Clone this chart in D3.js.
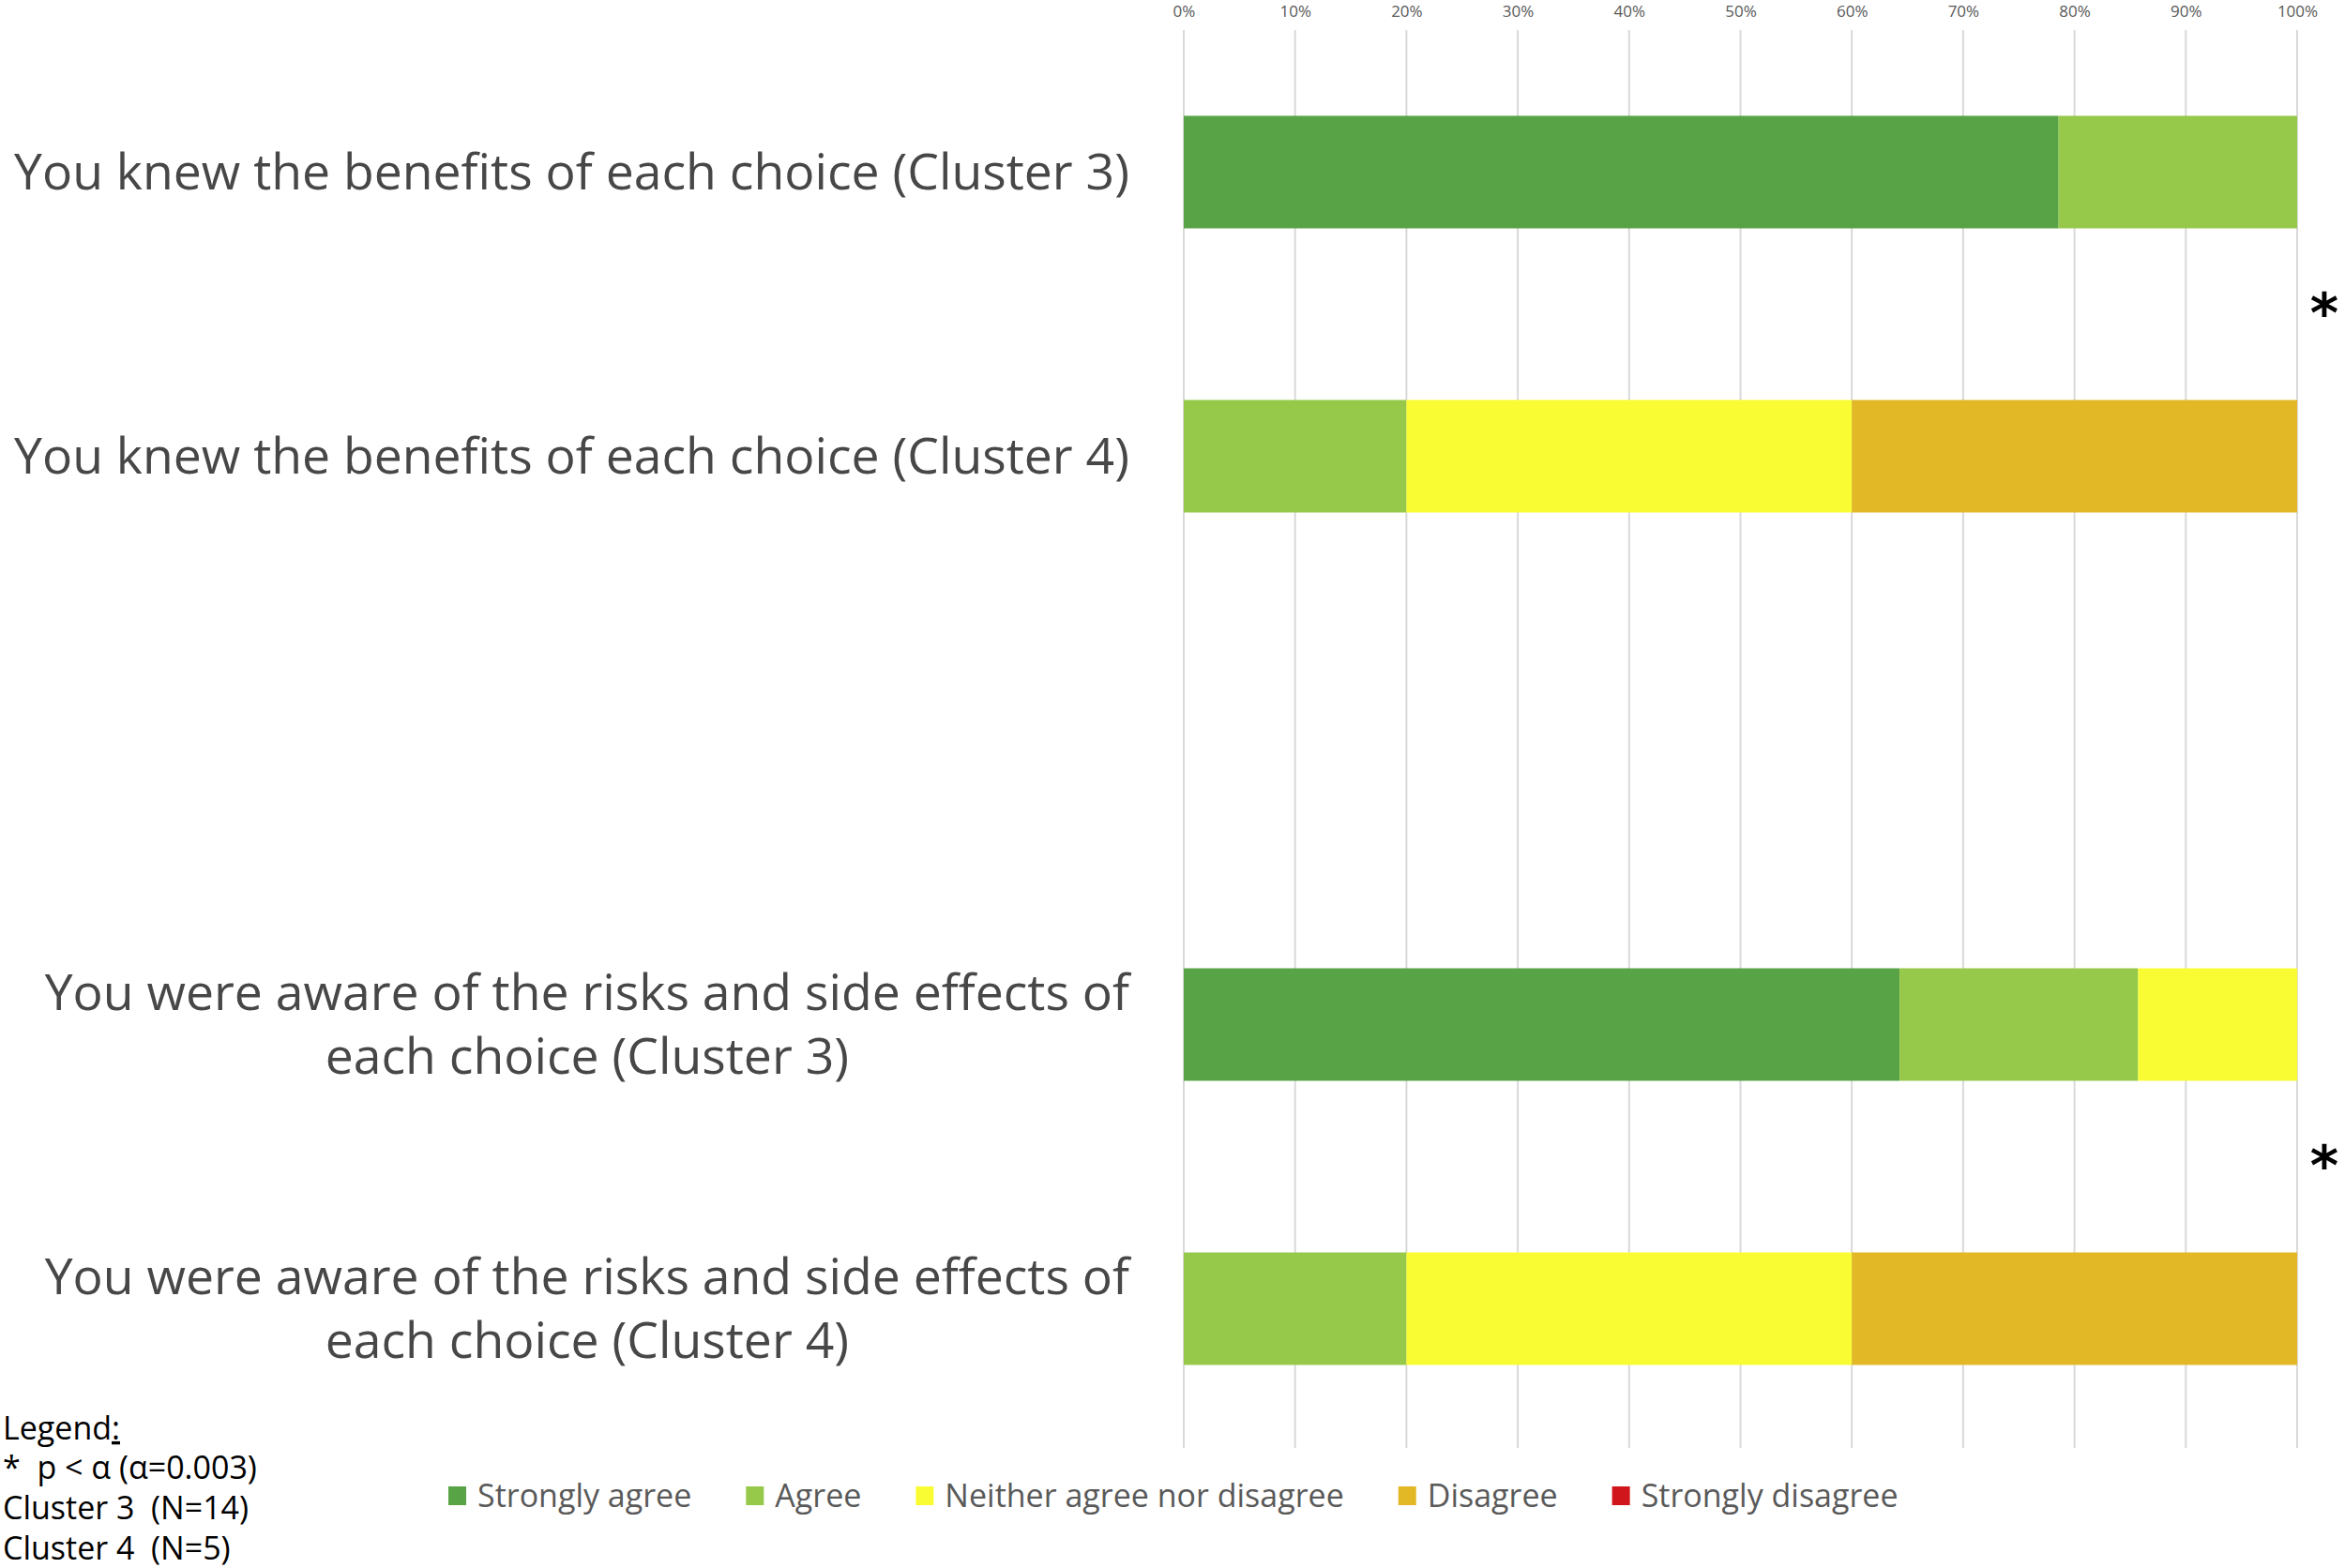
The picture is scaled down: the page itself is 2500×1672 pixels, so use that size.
<!DOCTYPE html>
<html>
<head>
<meta charset="utf-8">
<script src="https://cdn.jsdelivr.net/npm/d3@7"></script>
<style>
  html, body { margin: 0; padding: 0; background: #fff; }
  svg { display: block; }
</style>
</head>
<body>
<svg id="chart" width="2500" height="1672"></svg>
<script>
// ---- data ----
const categories = [
  "You knew the benefits of each choice (Cluster 3)",
  "You knew the benefits of each choice (Cluster 4)",
  "",
  "You were aware of the risks and side effects of each choice (Cluster 3)",
  "You were aware of the risks and side effects of each choice (Cluster 4)"
];
const labelLines = [
  ["You knew the benefits of each choice (Cluster 3)"],
  ["You knew the benefits of each choice (Cluster 4)"],
  [],
  ["You were aware of the risks and side effects of", "each choice (Cluster 3)"],
  ["You were aware of the risks and side effects of", "each choice (Cluster 4)"]
];
const seriesNames = ["Strongly agree", "Agree", "Neither agree nor disagree", "Disagree", "Strongly disagree"];
const stronglyAgree = [78.57, 0, 0, 64.29, 0];
const agree         = [21.43, 20, 0, 21.43, 20];
const neither       = [0, 40, 0, 14.29, 40];
const disagree      = [0, 40, 0, 0, 40];
const stronglyDis   = [0, 0, 0, 0, 0];
const seriesColors = ["#57a345", "#96c94a", "#f9fc33", "#e3b826", "#d0161b"];
const xTicks = [0, 10, 20, 30, 40, 50, 60, 70, 80, 90, 100];
const significantPairs = [[0, 1], [3, 4]];
const notes = ["Legend", "*  p < \u03b1 (\u03b1=0.003)", "Cluster 3  (N=14)", "Cluster 4  (N=5)"];

// ---- build table ----
const seriesValues = [stronglyAgree, agree, neither, disagree, stronglyDis];
const table = categories.map((c, i) => {
  const row = { key: "k" + i, label: c };
  seriesNames.forEach((s, j) => row[s] = seriesValues[j][i]);
  return row;
});
const stacked = d3.stack().keys(seriesNames)(table);

// ---- layout ----
const svg = d3.select("#chart");
const plotLeft = 1262, plotRight = 2449, plotTop = 32, plotBottom = 1547;

const x = d3.scaleLinear().domain([0, 100]).range([plotLeft, plotRight]);
const y = d3.scaleBand().domain(table.map(d => d.key))
  .range([plotTop, plotBottom]).paddingInner(0.604).paddingOuter(0.302);

// gridlines
svg.append("g").selectAll("line").data(xTicks).join("line")
  .attr("x1", d => x(d)).attr("x2", d => x(d))
  .attr("y1", plotTop).attr("y2", plotBottom - 3)
  .attr("stroke", "#d9d9d9").attr("stroke-width", 2);

// top axis labels
const xAxis = d3.axisTop(x).tickValues(xTicks).tickFormat(d => d + "%").tickSize(0).tickPadding(0);
const gx = svg.append("g").attr("transform", `translate(0, 13)`).call(xAxis);
gx.select(".domain").remove();
gx.selectAll("text").attr("font-family", "'Open Sans', sans-serif").attr("font-size", 17)
  .attr("fill", "#595959").attr("dy", "0.32em").attr("y", 0);

// bars
svg.append("g").selectAll("g").data(stacked).join("g")
  .attr("fill", (d, i) => seriesColors[i])
  .selectAll("rect").data(d => d).join("rect")
  .attr("x", d => x(d[0]))
  .attr("width", d => Math.max(0, x(d[1]) - x(d[0])))
  .attr("y", d => y(d.data.key))
  .attr("height", y.bandwidth());

// category labels: block right-aligned, lines centered within block
const labelRight = 1204;
const labelFont = 53.5;
const lineGap = 68;
const lg = svg.append("g");
table.forEach((row, i) => {
  const lines = labelLines[i];
  if (!lines.length) return;
  const cy = y(row.key) + y.bandwidth() / 2;
  const g = lg.append("g");
  const texts = lines.map((ln, k) => g.append("text")
    .attr("font-family", "'Open Sans', sans-serif")
    .attr("font-size", labelFont)
    .attr("fill", "#474747")
    .attr("dy", "0.35em")
    .attr("y", cy + (k - (lines.length - 1) / 2) * lineGap)
    .text(ln));
  const widths = texts.map(t => t.node().getComputedTextLength());
  const blockW = d3.max(widths);
  const blockCenter = labelRight - blockW / 2;
  texts.forEach(t => t.attr("x", blockCenter).attr("text-anchor", "middle"));
});

// significance asterisks
svg.append("g").selectAll("text").data(significantPairs).join("text")
  .attr("x", 2478)
  .attr("y", d => (y(table[d[0]].key) + y(table[d[1]].key)) / 2 + y.bandwidth() / 2)
  .attr("dy", "0.32em")
  .attr("text-anchor", "middle")
  .attr("font-family", "'DejaVu Sans', sans-serif")
  .attr("font-weight", "bold")
  .attr("font-size", 58)
  .attr("fill", "#000")
  .text("*");

// series legend
const legY = 1595;
const legG = svg.append("g");
let lx = 478;
seriesNames.forEach((s, i) => {
  legG.append("rect").attr("x", lx).attr("y", legY - 10).attr("width", 19).attr("height", 20)
    .attr("fill", seriesColors[i]);
  const t = legG.append("text").attr("x", lx + 31).attr("y", legY).attr("dy", "0.35em")
    .attr("font-family", "'Open Sans', sans-serif").attr("font-size", 34)
    .attr("fill", "#595959").text(s);
  lx += 31 + t.node().getComputedTextLength() + 58;
});

// notes legend (bottom-left)
const noteG = svg.append("g").attr("font-family", "'Open Sans', sans-serif")
  .attr("font-size", 34).attr("fill", "#000").style("white-space", "pre");
const noteYs = [1523, 1565, 1608, 1651];
notes.forEach((n, i) => {
  const t = noteG.append("text").attr("x", 3).attr("y", noteYs[i]).attr("dy", "0.35em")
    .attr("xml:space", "preserve");
  if (i === 0) {
    t.append("tspan").text(n);
    t.append("tspan").attr("text-decoration", "underline").text(":");
  } else {
    t.text(n);
  }
});
</script>
</body>
</html>
